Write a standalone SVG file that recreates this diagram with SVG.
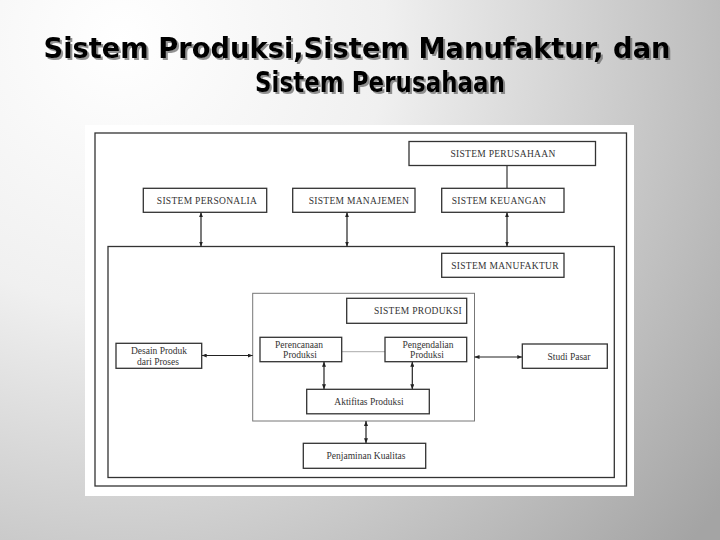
<svg xmlns="http://www.w3.org/2000/svg" width="720" height="540" viewBox="0 0 720 540">
  <defs>
    <radialGradient id="bg" cx="120" cy="40" r="760" gradientUnits="userSpaceOnUse">
      <stop offset="0" stop-color="#ffffff"/>
      <stop offset="0.35" stop-color="#f0f0f0"/>
      <stop offset="1" stop-color="#a4a4a4"/>
    </radialGradient>
    <filter id="shadow" x="-5%" y="-20%" width="110%" height="150%">
      <feDropShadow dx="2" dy="2" stdDeviation="0.6" flood-color="#666666" flood-opacity="0.7"/>
    </filter>
    <marker id="ah" viewBox="0 0 5 4" refX="5" refY="2" markerWidth="5" markerHeight="4" markerUnits="userSpaceOnUse" orient="auto-start-reverse">
      <path d="M0,0 L5,2 L0,4 z" fill="#222"/>
    </marker>
  </defs>
  <style>
    .title { font-family: "DejaVu Sans", "Noto Sans", sans-serif; font-weight: bold; font-size: 29px; fill: #000; }
    .box { fill: #ffffff; stroke: #333333; stroke-width: 1.3; }
    .frame { fill: none; stroke: #333333; stroke-width: 1.3; }
    .pframe { fill: none; stroke: #777777; stroke-width: 1; }
    .lbl { font-family: "Liberation Serif", "Times New Roman", serif; font-size: 9.5px; fill: #333; text-anchor: middle; }
    .cap { letter-spacing: 0.3px; }
    .conn { stroke: #222; stroke-width: 1.2; fill: none; }
    .plain { stroke: #333; stroke-width: 1.2; fill: none; }
    .light { stroke: #aaaaaa; stroke-width: 1; fill: none; }
  </style>

  <rect x="0" y="0" width="720" height="540" fill="url(#bg)"/>

  <g id="title" filter="url(#shadow)">
    <text class="title" x="357" y="58" text-anchor="middle" textLength="627" lengthAdjust="spacingAndGlyphs">Sistem Produksi,Sistem Manufaktur, dan</text>
    <text class="title" x="380" y="92" text-anchor="middle" textLength="250" lengthAdjust="spacingAndGlyphs">Sistem Perusahaan</text>
  </g>

  <!-- white panel and frames -->
  <rect x="85" y="125" width="549" height="371" fill="#ffffff"/>
  <rect class="frame" x="95" y="133" width="531.5" height="353"/>

  <g id="sistem-manufaktur-frame">
    <rect class="frame" x="108" y="246.5" width="506.3" height="231"/>
  </g>
  <g id="sistem-produksi-frame">
    <rect class="pframe" x="252.7" y="293.3" width="221.8" height="127.7"/>
  </g>

  <g id="connectors">
    <line class="plain" x1="507" y1="165" x2="507" y2="188.3"/>
    <line class="conn" x1="201" y1="212.3" x2="201" y2="246.5" marker-start="url(#ah)" marker-end="url(#ah)"/>
    <line class="conn" x1="347" y1="212.3" x2="347" y2="246.5" marker-start="url(#ah)" marker-end="url(#ah)"/>
    <line class="conn" x1="507" y1="212.3" x2="507" y2="246.5" marker-start="url(#ah)" marker-end="url(#ah)"/>
    <line class="conn" x1="201.7" y1="355.5" x2="252.7" y2="355.5" marker-start="url(#ah)" marker-end="url(#ah)"/>
    <line class="conn" x1="474.5" y1="357" x2="522.3" y2="357" marker-start="url(#ah)" marker-end="url(#ah)"/>
    <line class="light" x1="341.7" y1="351.7" x2="385" y2="351.7"/>
    <line class="conn" x1="324" y1="361.7" x2="324" y2="389.3" marker-start="url(#ah)" marker-end="url(#ah)"/>
    <line class="conn" x1="412.3" y1="361.7" x2="412.3" y2="389.3" marker-start="url(#ah)" marker-end="url(#ah)"/>
    <line class="conn" x1="366" y1="421" x2="366" y2="443.3" marker-start="url(#ah)" marker-end="url(#ah)"/>
  </g>

  <g id="sistem-perusahaan">
    <rect class="box" x="409" y="141.5" width="186.5" height="24"/>
    <text class="lbl cap" x="503" y="157">SISTEM PERUSAHAAN</text>
  </g>
  <g id="sistem-personalia">
    <rect class="box" x="143.3" y="188.3" width="123.4" height="24"/>
    <text class="lbl cap" x="207" y="204">SISTEM PERSONALIA</text>
  </g>
  <g id="sistem-manajemen">
    <rect class="box" x="292.7" y="188.3" width="122.3" height="24"/>
    <text class="lbl cap" x="359" y="204">SISTEM MANAJEMEN</text>
  </g>
  <g id="sistem-keuangan">
    <rect class="box" x="441.7" y="188.3" width="122.3" height="24"/>
    <text class="lbl cap" x="499" y="204">SISTEM KEUANGAN</text>
  </g>
  <g id="sistem-manufaktur">
    <rect class="box" x="441.7" y="253.3" width="122.3" height="24"/>
    <text class="lbl cap" x="505" y="269">SISTEM MANUFAKTUR</text>
  </g>
  <g id="sistem-produksi">
    <rect class="box" x="346.7" y="298.3" width="120" height="25"/>
    <text class="lbl cap" x="418" y="314">SISTEM PRODUKSI</text>
  </g>
  <g id="perencanaan-produksi">
    <rect class="box" x="260" y="337.3" width="81.7" height="24.4"/>
    <text class="lbl" x="299" y="347.5">Perencanaan</text>
    <text class="lbl" x="300" y="358">Produksi</text>
  </g>
  <g id="pengendalian-produksi">
    <rect class="box" x="385" y="337.3" width="81.7" height="24.4"/>
    <text class="lbl" x="428" y="347.5">Pengendalian</text>
    <text class="lbl" x="427" y="358">Produksi</text>
  </g>
  <g id="desain-produk">
    <rect class="box" x="116" y="343.3" width="85.7" height="25"/>
    <text class="lbl" x="159" y="354">Desain Produk</text>
    <text class="lbl" x="158" y="365">dari Proses</text>
  </g>
  <g id="studi-pasar">
    <rect class="box" x="522.3" y="344" width="85" height="24.3"/>
    <text class="lbl" x="569" y="359.5">Studi Pasar</text>
  </g>
  <g id="aktifitas-produksi">
    <rect class="box" x="306.7" y="389.3" width="122.6" height="24.5"/>
    <text class="lbl" x="369" y="405">Aktifitas Produksi</text>
  </g>
  <g id="penjaminan-kualitas">
    <rect class="box" x="303.3" y="443.3" width="122.4" height="25"/>
    <text class="lbl" x="366" y="459">Penjaminan Kualitas</text>
  </g>
</svg>
